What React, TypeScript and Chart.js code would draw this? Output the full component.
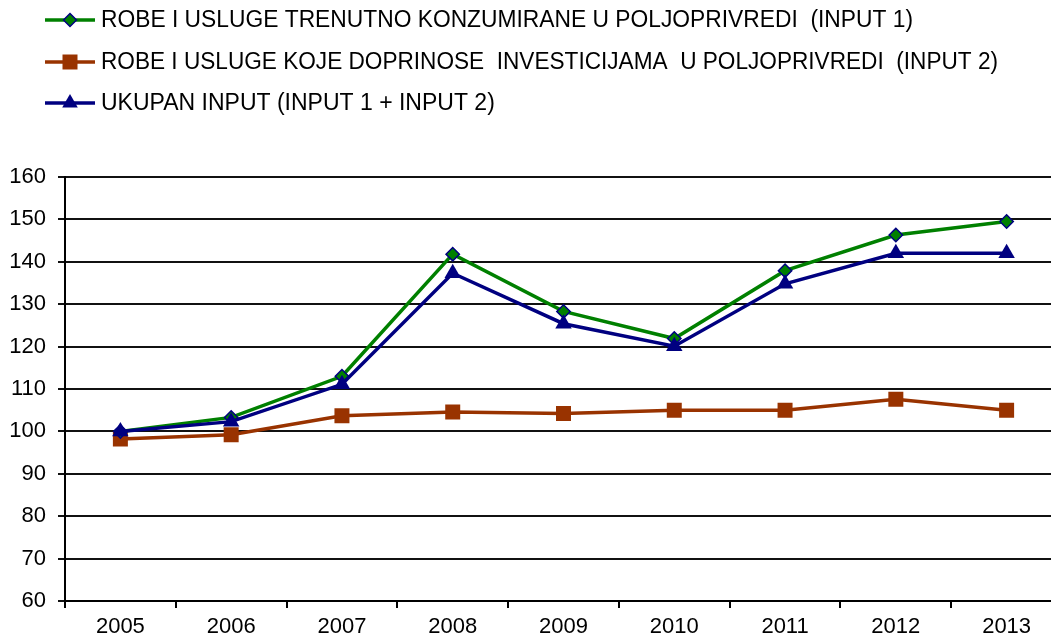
import React, { useEffect, useRef } from "react";
import { Chart, registerables } from "chart.js";

Chart.register(...registerables);

const years = ["2005", "2006", "2007", "2008", "2009", "2010", "2011", "2012", "2013"];
const input1 = [100, 103.3, 113.0, 141.8, 128.3, 121.9, 137.9, 146.3, 149.5];
const input2 = [98.2, 99.2, 103.7, 104.6, 104.2, 105.0, 105.0, 107.6, 105.0];
const total = [100, 102.3, 111.1, 137.3, 125.4, 120.1, 134.8, 142.0, 142.0];

const label1 = "ROBE I USLUGE TRENUTNO KONZUMIRANE U POLJOPRIVREDI  (INPUT 1)";
const label2 = "ROBE I USLUGE KOJE DOPRINOSE  INVESTICIJAMA  U POLJOPRIVREDI  (INPUT 2)";
const label3 = "UKUPAN INPUT (INPUT 1 + INPUT 2)";

const GREEN = "#008000";
const NAVY = "#000080";
const BROWN = "#993300";
const FONT = "'Liberation Sans', Arial, sans-serif";

const legendPlugin = {
  id: "customLegend",
  afterDraw(chart: any) {
    const ctx = chart.ctx;
    const rows = [
      { text: label1, color: GREEN, marker: "diamond", y: 20, maxW: 812 },
      { text: label2, color: BROWN, marker: "square", y: 62, maxW: 897 },
      { text: label3, color: NAVY, marker: "triangle", y: 103, maxW: 400 },
    ];
    ctx.save();
    rows.forEach((r) => {
      ctx.strokeStyle = r.color;
      ctx.lineWidth = 3.5;
      ctx.beginPath();
      ctx.moveTo(45, r.y);
      ctx.lineTo(95, r.y);
      ctx.stroke();
      const cx = 70;
      ctx.beginPath();
      if (r.marker === "diamond") {
        ctx.moveTo(cx, r.y - 6.5);
        ctx.lineTo(cx + 6.5, r.y);
        ctx.lineTo(cx, r.y + 6.5);
        ctx.lineTo(cx - 6.5, r.y);
        ctx.closePath();
        ctx.fillStyle = GREEN;
        ctx.fill();
        ctx.strokeStyle = NAVY;
        ctx.lineWidth = 1.5;
        ctx.stroke();
      } else if (r.marker === "square") {
        ctx.rect(cx - 7.5, r.y - 7.5, 15, 15);
        ctx.fillStyle = BROWN;
        ctx.fill();
      } else {
        ctx.moveTo(cx, r.y - 9);
        ctx.lineTo(cx + 7.8, r.y + 4.5);
        ctx.lineTo(cx - 7.8, r.y + 4.5);
        ctx.closePath();
        ctx.fillStyle = NAVY;
        ctx.fill();
      }
      ctx.fillStyle = "#000";
      ctx.font = `23px ${FONT}`;
      ctx.textBaseline = "middle";
      ctx.textAlign = "left";
      ctx.fillText(r.text, 101, r.y + 1, r.maxW);
    });
    ctx.restore();
  },
};

export default function App() {
  const ref = useRef<HTMLCanvasElement | null>(null);
  useEffect(() => {
    if (!ref.current) return;
    const chart = new Chart(ref.current, {
      type: "line",
      data: {
        labels: years,
        datasets: [
          {
            label: label1,
            data: input1,
            borderColor: GREEN,
            backgroundColor: GREEN,
            pointBackgroundColor: GREEN,
            pointBorderColor: NAVY,
            pointBorderWidth: 1.5,
            pointStyle: "rectRot",
            pointRadius: 6.7,
            borderWidth: 3.5,
            tension: 0,
            order: 1,
          },
          {
            label: label2,
            data: input2,
            borderColor: BROWN,
            backgroundColor: BROWN,
            pointBackgroundColor: BROWN,
            pointBorderColor: BROWN,
            pointBorderWidth: 0,
            pointStyle: "rect",
            pointRadius: 10.6,
            borderWidth: 3.5,
            tension: 0,
            order: 2,
          },
          {
            label: label3,
            data: total,
            borderColor: NAVY,
            backgroundColor: NAVY,
            pointBackgroundColor: NAVY,
            pointBorderColor: NAVY,
            pointBorderWidth: 0,
            pointStyle: "triangle",
            pointRadius: 9.5,
            borderWidth: 3.5,
            tension: 0,
            order: 0,
          },
        ],
      },
      options: {
        animation: false,
        responsive: false,
        maintainAspectRatio: false,
        layout: { autoPadding: false, padding: { top: 177, left: 0, right: 0, bottom: 0 } },
        plugins: {
          legend: { display: false },
          tooltip: { enabled: false },
          title: { display: false },
        },
        scales: {
          x: {
            type: "category",
            offset: true,
            grid: {
              offset: true,
              drawOnChartArea: false,
              drawTicks: true,
              tickLength: 7,
              color: "#000",
              lineWidth: 2,
            },
            border: { display: true, color: "#000", width: 2 },
            ticks: {
              color: "#000",
              font: { family: FONT, size: 22 },
              padding: 6,
              maxRotation: 0,
              autoSkip: false,
            },
            afterFit(scale: any) {
              scale.height = 35;
            },
          },
          y: {
            min: 60,
            max: 160,
            ticks: {
              stepSize: 10,
              color: "#000",
              font: { family: FONT, size: 22 },
              padding: 12,
            },
            grid: {
              color: "#111",
              lineWidth: 2,
              tickLength: 7,
              drawTicks: true,
            },
            border: { display: true, color: "#000", width: 2 },
            afterFit(scale: any) {
              scale.width = 65;
            },
          },
        },
      },
      plugins: [legendPlugin],
    });
    return () => chart.destroy();
  }, []);
  return (
    <div
      style={{
        position: "fixed",
        left: 0,
        top: 0,
        width: 1051,
        height: 636,
        overflow: "hidden",
        background: "#fff",
      }}
    >
      <canvas ref={ref} width={1062} height={636} style={{ display: "block" }} />
    </div>
  );
}
